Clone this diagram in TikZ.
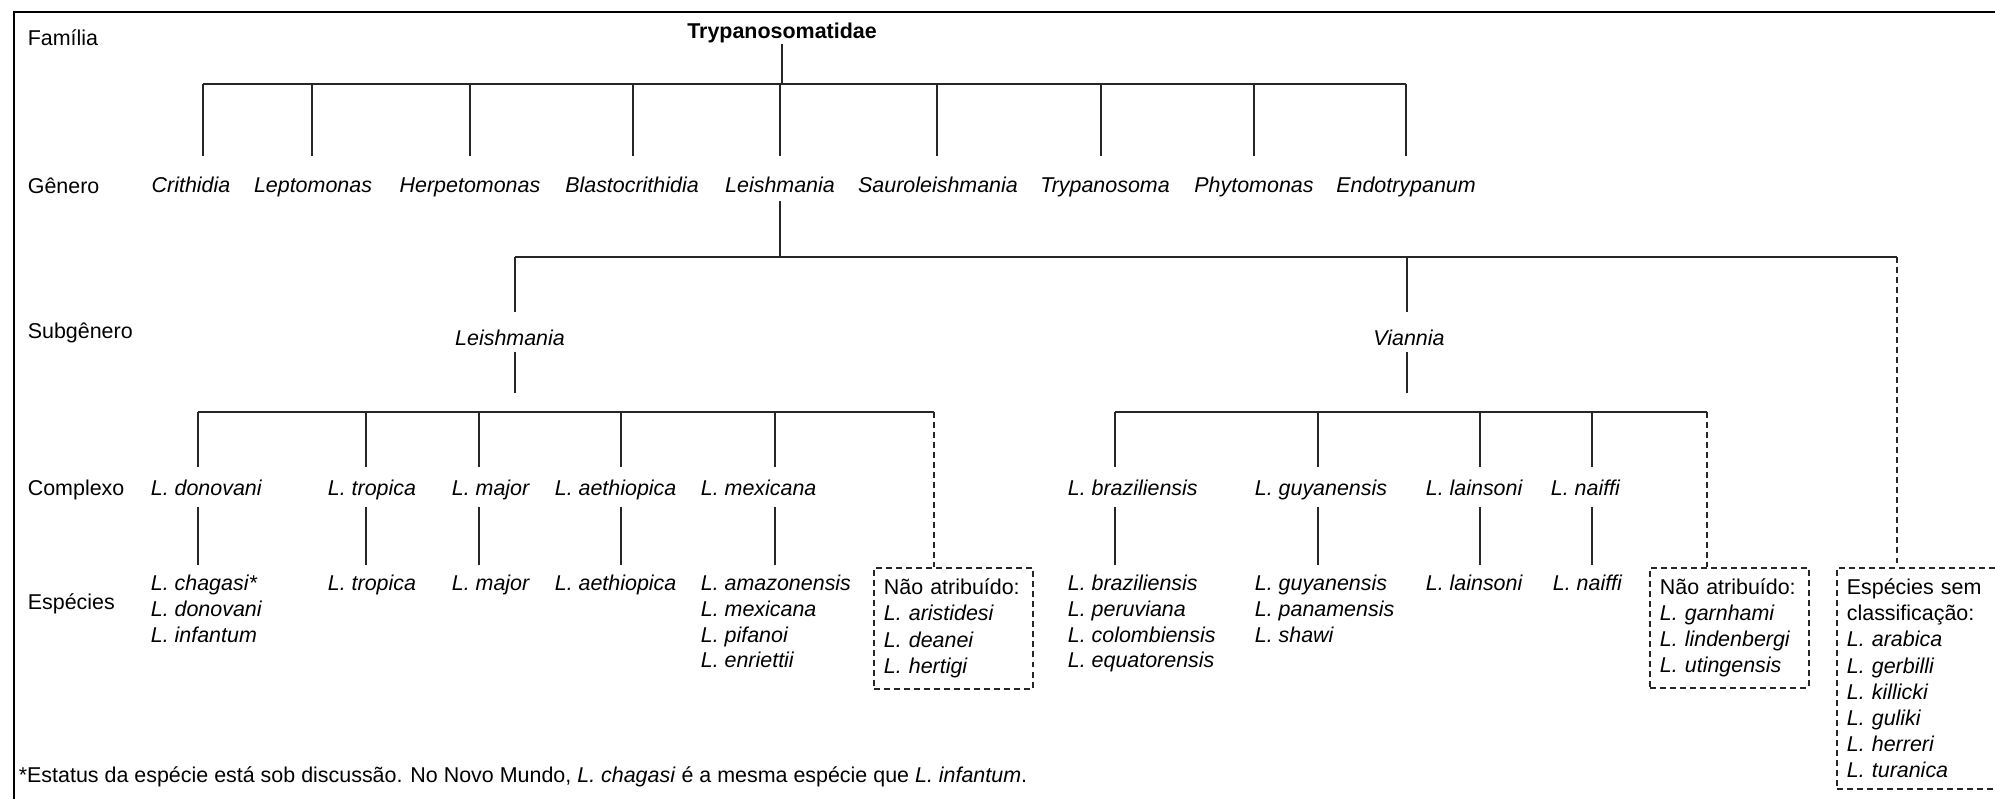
\documentclass[tikz,border=0pt]{standalone}
\usepackage{fontspec}
\setmainfont{Liberation Sans}
\newcommand\labfont{\fontsize{12.2pt}{14.6pt}\selectfont}
\newcommand\boxfont{\fontsize{12.2pt}{14.9pt}\selectfont}
\newcommand\splist[1]{\begin{tabular}[t]{@{}l@{}}#1\end{tabular}}
\begin{document}
\begin{tikzpicture}[x=0.2mm, y=-0.2mm, line width=0.95pt,
  rank/.style={anchor=base west, inner sep=0pt, font=\labfont},
  family/.style={anchor=base, inner sep=0pt, font=\labfont\bfseries, text depth=2.8pt},
  genus/.style={anchor=base, inner sep=0pt, font=\labfont\itshape, text height=19.9pt, text depth=4.6pt},
  subgenus/.style={anchor=base, inner sep=0pt, font=\labfont\itshape, text height=18.2pt, text depth=3.4pt},
  complex/.style={anchor=base west, inner sep=0pt, font=\labfont\itshape, text height=15.4pt, text depth=6.3pt},
  species/.style={anchor=north west, inner sep=0pt, font=\labfont\itshape, text height=14.2pt},
  unassigned/.style={draw=black!85, dash pattern=on 3.4pt off 2.3pt, anchor=north west, align=left,
    font=\boxfont, inner xsep=5.7pt, inner ysep=0pt, text width=79pt, minimum height=#1},
  link/.style={draw=black!85},
  dashlink/.style={link, dash pattern=on 3.4pt off 2.3pt}]
\useasboundingbox (0,0) rectangle (1995,799);
\draw[line width=1.5pt] (14,799) -- (14,12) -- (1995,12);

\node[rank] (rfam) at (27,45) {Família};
\node[rank] (rgen) at (27,193) {Gênero};
\node[rank] (rsub) at (27,338) {Subgênero};
\node[rank] (rcom) at (27,495) {Complexo};
\node[rank] (resp) at (27,609) {Espécies};

\node[family] (tryp) at (782,38) {Trypanosomatidae};

\node[genus] (cri) at (191,192) {Crithidia};
\node[genus] (lep) at (313,192) {Leptomonas};
\node[genus] (her) at (470,192) {Herpetomonas};
\node[genus] (bla) at (632,192) {Blastocrithidia};
\node[genus] (lei) at (780,192) {Leishmania};
\node[genus] (sau) at (938,192) {Sauroleishmania};
\node[genus] (try) at (1105,192) {Trypanosoma};
\node[genus] (phy) at (1254,192) {Phytomonas};
\node[genus] (endo) at (1406,192) {Endotrypanum};

\coordinate (gbar) at (203,84);
\draw[link] (gbar) -- (1406,84);
\draw[link] (tryp.south) -- (tryp.south |- gbar);
\foreach \x/\n in {203/cri,312/lep,470/her,633/bla,780/lei,937/sau,1101/try,1254/phy,1406/endo}
  \draw[link] (\x,84) -- (\x,84 |- \n.north);

\node[subgenus] (sleish) at (510,345) {Leishmania};
\node[subgenus] (svian) at (1409,345) {Viannia};
\coordinate (sbar) at (515,257);
\draw[link] (sbar) -- (1897,257);
\draw[link] (lei.south) -- (lei.south |- sbar);
\draw[link] (sbar) -- (sbar |- sleish.north);
\draw[link] (1407,257) -- (1407,257 |- svian.north);
\coordinate (lcut) at (515,393);
\coordinate (vcut) at (1407,393);
\draw[link] (lcut |- sleish.south) -- (lcut);
\draw[link] (vcut |- svian.south) -- (vcut);

\node[complex] (don) at (150,495) {L. donovani};
\node[complex] (tro) at (327,495) {L. tropica};
\node[complex] (maj) at (451,495) {L. major};
\node[complex] (aet) at (554,495) {L. aethiopica};
\node[complex] (mex) at (700,495) {L. mexicana};
\node[complex] (bra) at (1067,495) {L. braziliensis};
\node[complex] (guy) at (1254,495) {L. guyanensis};
\node[complex] (lai) at (1425,495) {L. lainsoni};
\node[complex] (nai) at (1550,495) {L. naiffi};

\node[species] (sdon) at (150,565) {\splist{L. chagasi*\\L. donovani\\L. infantum}};
\node[species] (stro) at (327,565) {L. tropica};
\node[species] (smaj) at (451,565) {L. major};
\node[species] (saet) at (554,565) {L. aethiopica};
\node[species] (smex) at (700,565) {\splist{L. amazonensis\\L. mexicana\\L. pifanoi\\L. enriettii}};
\node[species] (sbra) at (1067,565) {\splist{L. braziliensis\\L. peruviana\\L. colombiensis\\L. equatorensis}};
\node[species] (sguy) at (1254,565) {\splist{L. guyanensis\\L. panamensis\\L. shawi}};
\node[species] (slai) at (1425,565) {L. lainsoni};
\node[species] (snai) at (1552,565) {L. naiffi};

\draw[link] (198,412) -- (934,412);
\draw[link] (1115,412) -- (1707,412);
\foreach \x/\n in {198/don,366/tro,479/maj,621/aet,775/mex,1115/bra,1318/guy,1480/lai,1592/nai}{
  \draw[link] (\x,412) -- (\x,412 |- \n.north);
  \draw[link] (\x,412 |- \n.south) -- (\x,412 |- s\n.north);
}

\node[unassigned=68.9pt] (nal) at (873,567) {Não atribuído:\\\textit{L. aristidesi}\\\textit{L. deanei}\\\textit{L. hertigi}};
\node[unassigned=68.3pt] (nav) at (1649,567) {Não atribuído:\\\textit{L. garnhami}\\\textit{L. lindenbergi}\\\textit{L. utingensis}};
\node[unassigned=125.8pt] (semc) at (1836,567) {Espécies sem\\classificação:\\\textit{L. arabica}\\\textit{L. gerbilli}\\\textit{L. killicki}\\\textit{L. guliki}\\\textit{L. herreri}\\\textit{L. turanica}};
\draw[dashlink] (934,412) -- (934,412 |- nal.north);
\draw[dashlink] (1707,412) -- (1707,412 |- nav.north);
\draw[dashlink] (1897,257) -- (1897,257 |- semc.north);

\node[rank] (note) at (18,782) {*Estatus da espécie está sob discussão. No Novo Mundo, \textit{L. chagasi} é a mesma espécie que \textit{L. infantum}.};
\end{tikzpicture}
\end{document}
